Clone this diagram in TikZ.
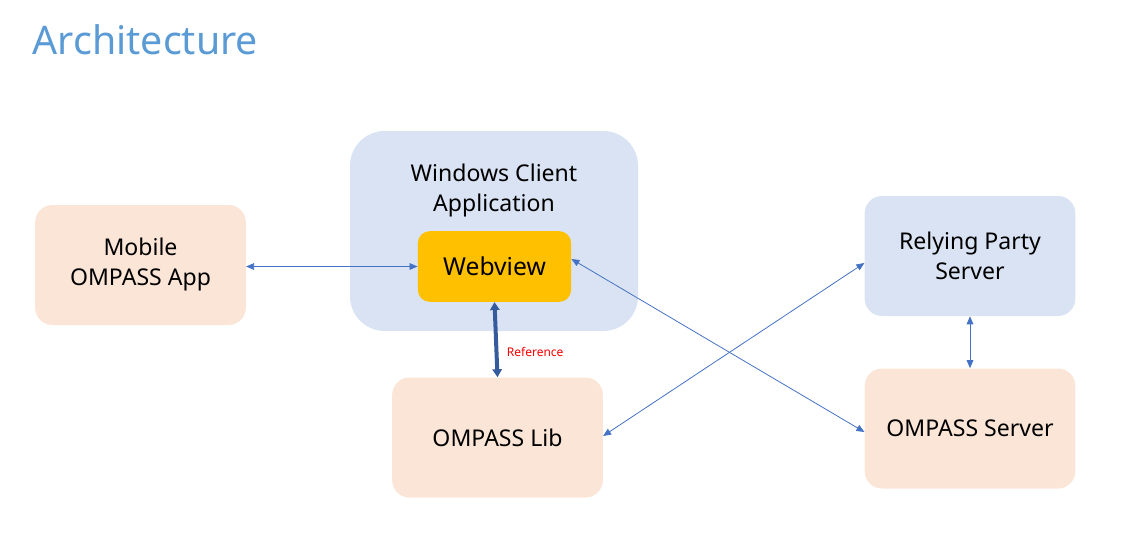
\documentclass[tikz,border=0pt]{standalone}
\usepackage{fontspec}
\setmainfont{Noto Sans}
\usetikzlibrary{arrows.meta,positioning}
\definecolor{peach}{HTML}{FBE5D6}
\definecolor{paleblue}{HTML}{DAE3F3}
\definecolor{gold}{HTML}{FFC000}
\definecolor{linkblue}{HTML}{4472C4}
\definecolor{titleblue}{HTML}{5B9BD5}

\begin{document}
\begin{tikzpicture}[x=0.75pt,y=-0.75pt,font=\fontsize{17.3}{22.5}\selectfont]
\tikzset{
  box/.style={rounded corners=13pt,minimum width=158pt,minimum height=90pt,
    align=center,inner sep=0pt},
  orangebox/.style={box,fill=peach},
  bluebox/.style={box,fill=paleblue},
  lnk/.style={{Triangle[length=6pt,width=5pt]}-{Triangle[length=6pt,width=5pt]},
    linkblue,line width=0.6pt}
}
\useasboundingbox (0,0) rectangle (1124,535);
\node[anchor=base west,titleblue,font=\fontsize{29.5}{33}\selectfont] (title) at (28,55) {Architecture};
% boxes
\node[orangebox] (app) at (140.5,265) {Mobile\\OMPASS App};
\node[bluebox,minimum width=216pt,minimum height=150pt,rounded corners=26pt] (win) at (494,231) {};
\node[align=center] (wintxt) at (494,191) {Windows Client\\Application};
\node[box,fill=gold,minimum width=115pt,minimum height=53pt,rounded corners=9pt,
  font=\fontsize{18.5}{22}\selectfont] (web) at (494.5,266.5) {Webview};
\node[orangebox] (lib) at (497.5,437.5) {OMPASS Lib};
\node[bluebox] (rp) at (970,256) {Relying Party\\Server};
\node[orangebox] (srv) at (970,428.5) {OMPASS Server};
% connectors
\draw[lnk] (app.east |- web.west) -- (web.west);
\draw[lnk] (web.east |- 0,259) -- (srv.west |- 0,432);
\draw[lnk] (lib.east |- 0,436) -- (rp.west |- 0,263);
\draw[lnk] (rp.south) -- (srv.north);
\draw[{Triangle[length=6pt,width=7pt]}-{Triangle[length=6pt,width=7pt]},
  draw=linkblue!80!black,line width=3pt] (web.south) -- (lib.north)
  node[pos=0.66,right=3pt,text=red,font=\fontsize{9}{10}\selectfont] (ref) {Reference};
\end{tikzpicture}
\end{document}
